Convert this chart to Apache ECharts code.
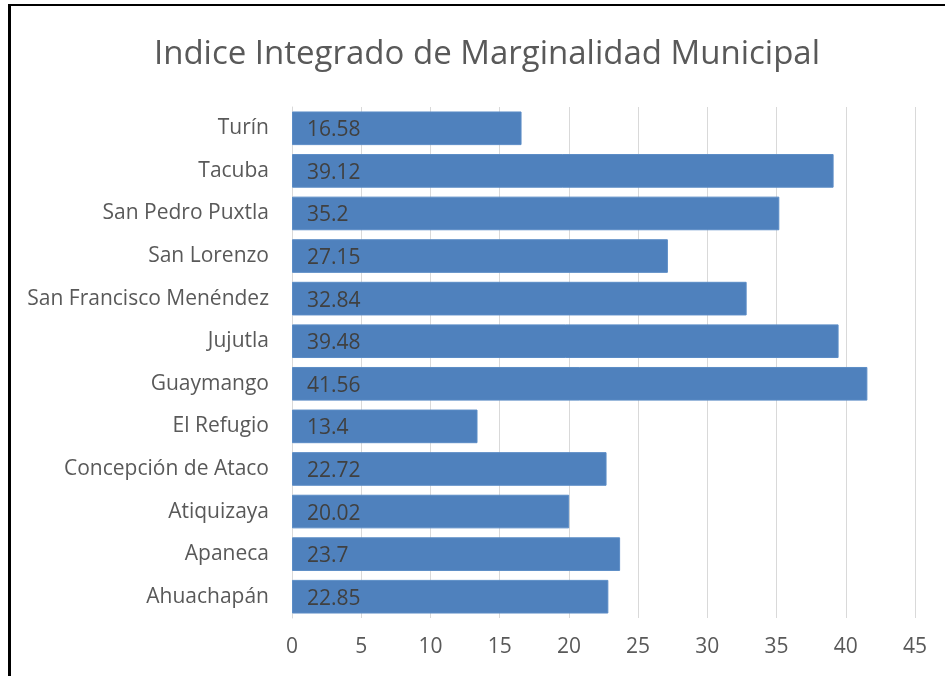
<!DOCTYPE html>
<html>
<head>
<meta charset="utf-8">
<title>Indice Integrado de Marginalidad Municipal</title>
<script src="https://cdn.jsdelivr.net/npm/echarts@6/dist/echarts.min.js"></script>
<style>
  html, body { margin: 0; padding: 0; background: #fff; }
  #chart { width: 945px; height: 676px; }
</style>
</head>
<body>
<div id="chart"></div>
<script>
// Municipalities, listed top to bottom as they appear on the chart
const municipios = [
  'Turín', 'Tacuba', 'San Pedro Puxtla', 'San Lorenzo', 'San Francisco Menéndez',
  'Jujutla', 'Guaymango', 'El Refugio', 'Concepción de Ataco', 'Atiquizaya',
  'Apaneca', 'Ahuachapán'
];
// Integrated marginality index per municipality
const indice = [16.58, 39.12, 35.2, 27.15, 32.84, 39.48, 41.56, 13.4, 22.72, 20.02, 23.7, 22.85];
// Value axis range
const ejeMin = 0, ejeMax = 45, ejePaso = 5;

const font = '"Open Sans", "Noto Sans", sans-serif';
const chart = echarts.init(document.getElementById('chart'));

chart.setOption({
  backgroundColor: '#ffffff',
  animation: false,
  title: {
    text: 'Indice Integrado de Marginalidad Municipal',
    left: 482,
    textAlign: 'center',
    top: 33,
    textStyle: { fontFamily: font, fontSize: 33, fontWeight: 'normal', color: '#595959' }
  },
  grid: { left: 292, right: 30, top: 107, bottom: 58, containLabel: false },
  xAxis: {
    type: 'value',
    min: ejeMin, max: ejeMax, interval: ejePaso,
    axisLine: { show: false },
    axisTick: { show: false },
    splitLine: { show: true, lineStyle: { color: '#d9d9d9', width: 1 } },
    axisLabel: { margin: 19, fontFamily: font, fontSize: 21, color: '#595959' }
  },
  yAxis: {
    type: 'category',
    data: municipios,
    inverse: true,
    axisLine: { show: true, lineStyle: { color: '#d9d9d9' } },
    axisTick: { show: false },
    axisLabel: { margin: 23, padding: [3, 0, 0, 0], fontFamily: font, fontSize: 21, color: '#595959' }
  },
  series: [{
    type: 'bar',
    data: indice,
    barCategoryGap: '21%',
    itemStyle: { color: '#4f81bd', borderColor: '#5b8cc6', borderWidth: 1 },
    label: {
      show: true,
      position: 'insideLeft',
      distance: 15,
      offset: [0, 2],
      fontFamily: font,
      fontSize: 21,
      color: '#404040',
      formatter: p => String(p.value)
    }
  }],
  graphic: [
    { type: 'rect', shape: { x: 8, y: 4, width: 3, height: 672 }, style: { fill: '#000' } },
    { type: 'rect', shape: { x: 8, y: 4, width: 937, height: 2 }, style: { fill: '#000' } }
  ]
});
</script>
</body>
</html>
